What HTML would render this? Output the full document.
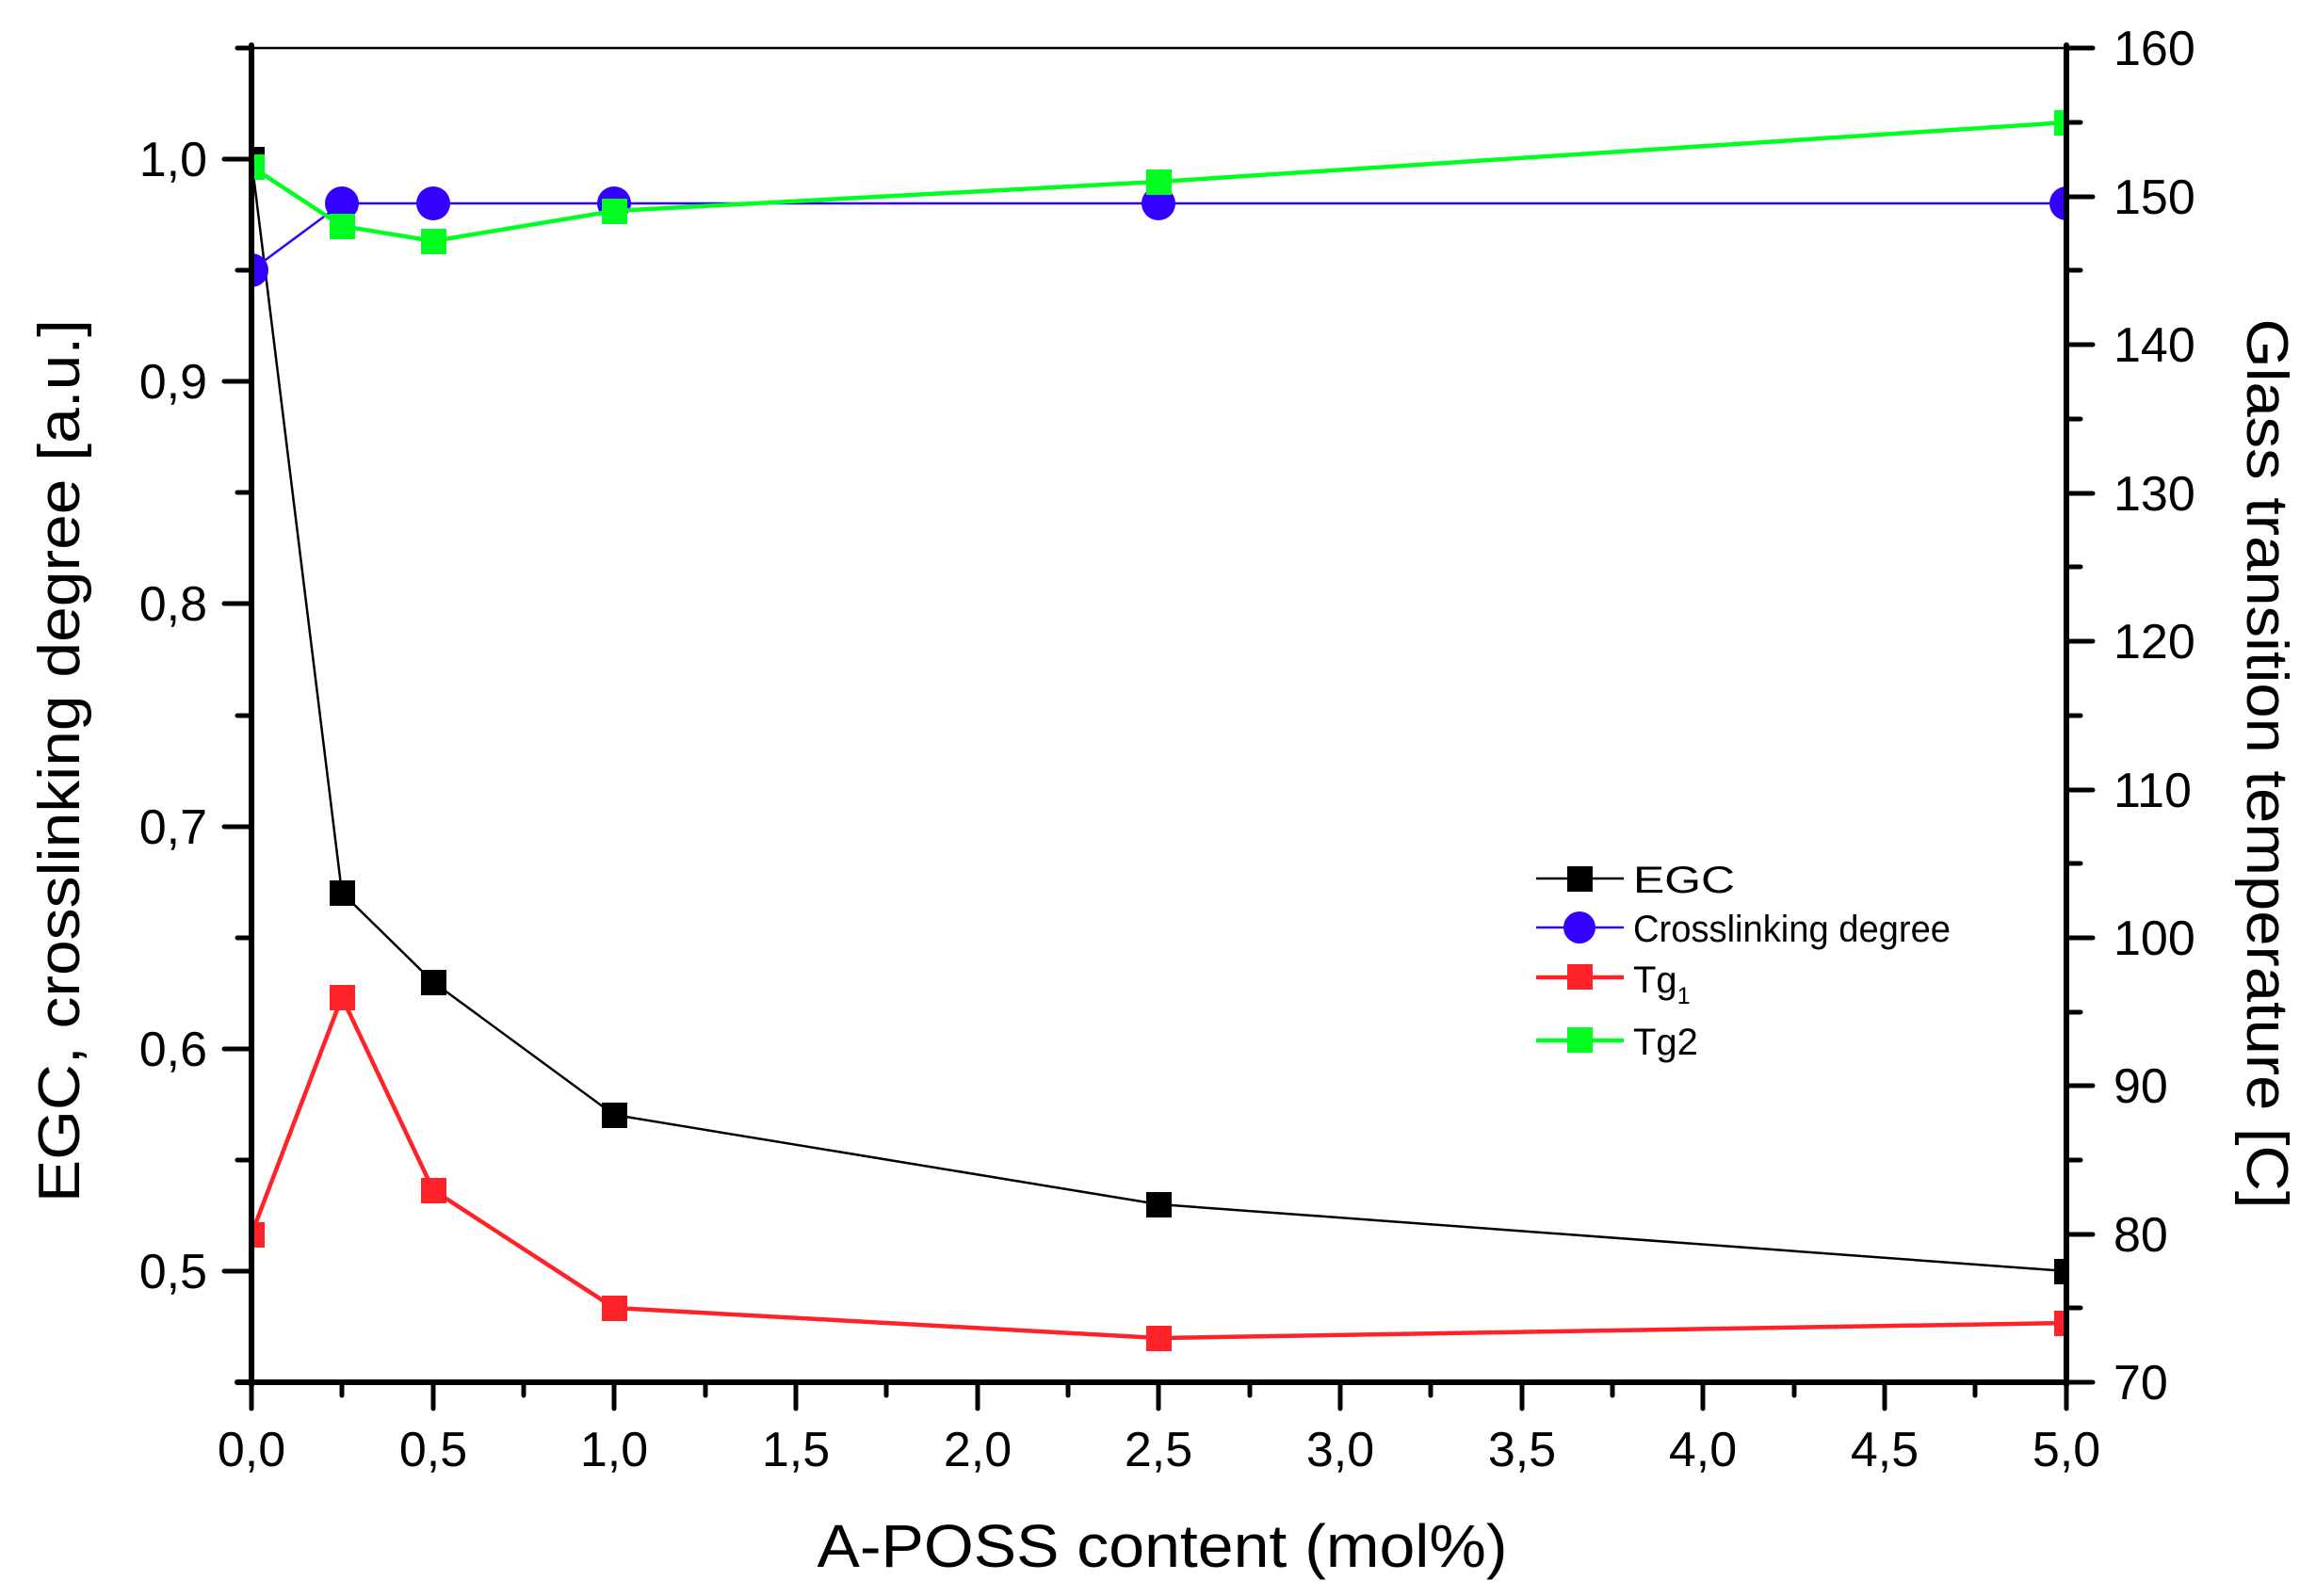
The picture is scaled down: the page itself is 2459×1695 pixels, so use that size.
<!DOCTYPE html>
<html><head><style>html,body{margin:0;padding:0;background:#fff}svg{display:block}</style></head>
<body>
<svg width="2459" height="1695" viewBox="0 0 2459 1695" xmlns="http://www.w3.org/2000/svg" font-family="Liberation Sans, Arial, sans-serif">
<defs><clipPath id="c"><rect x="267" y="51" width="1927" height="1417"/></clipPath></defs>
<rect width="2459" height="1695" fill="#fff"/>
<g clip-path="url(#c)">
<polyline fill="none" stroke="#000" stroke-width="2.5" points="267,169 363,948 460,1043 652,1184 1230,1279 2194,1350"/>
<g fill="#000">
<rect x="254" y="156" width="27" height="27"/><rect x="350" y="935" width="27" height="27"/><rect x="447" y="1030" width="27" height="27"/><rect x="639" y="1171" width="27" height="27"/><rect x="1217" y="1266" width="27" height="27"/><rect x="2181" y="1337" width="27" height="27"/>
</g>
<polyline fill="none" stroke="#3300ff" stroke-width="2.5" points="267,287 363,216 460,216 652,216 1230,216 2194,216"/>
<g fill="#3300ff">
<circle cx="267" cy="287" r="18"/><circle cx="363" cy="216" r="18"/><circle cx="460" cy="216" r="18"/><circle cx="652" cy="216" r="18"/><circle cx="1230" cy="216" r="18"/><circle cx="2194" cy="216" r="18"/>
</g>
<polyline fill="none" stroke="#ff2228" stroke-width="4.5" points="267,1311 363,1059 460,1264 652,1389 1230,1421 2194,1405"/>
<g fill="#ff2228">
<rect x="254" y="1298" width="27" height="27"/><rect x="350" y="1046" width="27" height="27"/><rect x="447" y="1251" width="27" height="27"/><rect x="639" y="1376" width="27" height="27"/><rect x="1217" y="1408" width="27" height="27"/><rect x="2181" y="1392" width="27" height="27"/>
</g>
<polyline fill="none" stroke="#00ff20" stroke-width="4.5" points="267,177 363,240 460,256 652,224 1230,193 2194,130"/>
<g fill="#00ff20">
<rect x="254" y="164" width="27" height="27"/><rect x="350" y="227" width="27" height="27"/><rect x="447" y="243" width="27" height="27"/><rect x="639" y="211" width="27" height="27"/><rect x="1217" y="180" width="27" height="27"/><rect x="2181" y="117" width="27" height="27"/>
</g>
</g>
<line x1="267" y1="51" x2="2194" y2="51" stroke="#000" stroke-width="2.5"/>
<g stroke="#000" stroke-width="6" stroke-linecap="round">
<line x1="267" y1="48" x2="267" y2="1471"/>
<line x1="2194" y1="48" x2="2194" y2="1471"/>
<line x1="252" y1="1468" x2="2194" y2="1468"/>
</g>
<g stroke="#000" stroke-width="5" stroke-linecap="round">
<line x1="238" y1="1350" x2="267" y2="1350"/><line x1="238" y1="1114" x2="267" y2="1114"/><line x1="238" y1="878" x2="267" y2="878"/><line x1="238" y1="641" x2="267" y2="641"/><line x1="238" y1="405" x2="267" y2="405"/><line x1="238" y1="169" x2="267" y2="169"/>
<line x1="252" y1="1232" x2="267" y2="1232"/><line x1="252" y1="996" x2="267" y2="996"/><line x1="252" y1="760" x2="267" y2="760"/><line x1="252" y1="523" x2="267" y2="523"/><line x1="252" y1="287" x2="267" y2="287"/><line x1="252" y1="51" x2="267" y2="51"/>
<line x1="2194" y1="51" x2="2222" y2="51"/><line x1="2194" y1="209" x2="2222" y2="209"/><line x1="2194" y1="366" x2="2222" y2="366"/><line x1="2194" y1="524" x2="2222" y2="524"/><line x1="2194" y1="681" x2="2222" y2="681"/><line x1="2194" y1="839" x2="2222" y2="839"/><line x1="2194" y1="996" x2="2222" y2="996"/><line x1="2194" y1="1153" x2="2222" y2="1153"/><line x1="2194" y1="1311" x2="2222" y2="1311"/><line x1="2194" y1="1468" x2="2222" y2="1468"/>
<line x1="2194" y1="130" x2="2209" y2="130"/><line x1="2194" y1="287" x2="2209" y2="287"/><line x1="2194" y1="445" x2="2209" y2="445"/><line x1="2194" y1="602" x2="2209" y2="602"/><line x1="2194" y1="760" x2="2209" y2="760"/><line x1="2194" y1="917" x2="2209" y2="917"/><line x1="2194" y1="1075" x2="2209" y2="1075"/><line x1="2194" y1="1232" x2="2209" y2="1232"/><line x1="2194" y1="1389" x2="2209" y2="1389"/>
<line x1="267" y1="1468" x2="267" y2="1496"/><line x1="460" y1="1468" x2="460" y2="1496"/><line x1="652" y1="1468" x2="652" y2="1496"/><line x1="845" y1="1468" x2="845" y2="1496"/><line x1="1038" y1="1468" x2="1038" y2="1496"/><line x1="1230" y1="1468" x2="1230" y2="1496"/><line x1="1423" y1="1468" x2="1423" y2="1496"/><line x1="1616" y1="1468" x2="1616" y2="1496"/><line x1="1808" y1="1468" x2="1808" y2="1496"/><line x1="2001" y1="1468" x2="2001" y2="1496"/><line x1="2194" y1="1468" x2="2194" y2="1496"/>
<line x1="363" y1="1468" x2="363" y2="1482"/><line x1="556" y1="1468" x2="556" y2="1482"/><line x1="749" y1="1468" x2="749" y2="1482"/><line x1="941" y1="1468" x2="941" y2="1482"/><line x1="1134" y1="1468" x2="1134" y2="1482"/><line x1="1327" y1="1468" x2="1327" y2="1482"/><line x1="1519" y1="1468" x2="1519" y2="1482"/><line x1="1712" y1="1468" x2="1712" y2="1482"/><line x1="1905" y1="1468" x2="1905" y2="1482"/><line x1="2097" y1="1468" x2="2097" y2="1482"/>
</g>
<g font-size="52" fill="#000" text-anchor="end">
<text x="220" y="1368">0,5</text><text x="220" y="1132">0,6</text><text x="220" y="896">0,7</text><text x="220" y="659">0,8</text><text x="220" y="423">0,9</text><text x="220" y="187">1,0</text>
</g>
<g font-size="52" fill="#000" text-anchor="start">
<text x="2244" y="69">160</text><text x="2244" y="227">150</text><text x="2244" y="384">140</text><text x="2244" y="542">130</text><text x="2244" y="699">120</text><text x="2244" y="857">110</text><text x="2244" y="1014">100</text><text x="2244" y="1171">90</text><text x="2244" y="1329">80</text><text x="2244" y="1486">70</text>
</g>
<g font-size="52" fill="#000" text-anchor="middle">
<text x="267" y="1557">0,0</text><text x="460" y="1557">0,5</text><text x="652" y="1557">1,0</text><text x="845" y="1557">1,5</text><text x="1038" y="1557">2,0</text><text x="1230" y="1557">2,5</text><text x="1423" y="1557">3,0</text><text x="1616" y="1557">3,5</text><text x="1808" y="1557">4,0</text><text x="2001" y="1557">4,5</text><text x="2194" y="1557">5,0</text>
</g>
<text x="1234" y="1664" font-size="64" text-anchor="middle" textLength="733" lengthAdjust="spacingAndGlyphs">A-POSS content (mol%)</text>
<text transform="translate(84,808) rotate(-90)" font-size="62" text-anchor="middle" textLength="938" lengthAdjust="spacingAndGlyphs">EGC, crosslinking degree [a.u.]</text>
<text transform="translate(2386,811) rotate(90)" font-size="62" text-anchor="middle" textLength="945" lengthAdjust="spacingAndGlyphs">Glass transition temperature [C]</text>
<line x1="1631" y1="933" x2="1724" y2="933" stroke="#000" stroke-width="2.5"/>
<rect x="1664" y="920" width="27" height="27" fill="#000"/>
<line x1="1631" y1="985" x2="1724" y2="985" stroke="#3300ff" stroke-width="2.5"/>
<circle cx="1677" cy="985" r="17" fill="#3300ff"/>
<line x1="1631" y1="1038" x2="1724" y2="1038" stroke="#ff2228" stroke-width="4.5"/>
<rect x="1664" y="1024" width="27" height="27" fill="#ff2228"/>
<line x1="1631" y1="1105" x2="1724" y2="1105" stroke="#00ff20" stroke-width="4.5"/>
<rect x="1664" y="1091" width="27" height="27" fill="#00ff20"/>
<g font-size="40" fill="#000">
<text x="1734" y="948" textLength="108" lengthAdjust="spacingAndGlyphs">EGC</text>
<text x="1734" y="1000" textLength="337" lengthAdjust="spacingAndGlyphs">Crosslinking degree</text>
<text x="1734" y="1054">Tg<tspan font-size="25" dy="12">1</tspan></text>
<text x="1734" y="1120">Tg2</text>
</g>
</svg>
</body></html>
